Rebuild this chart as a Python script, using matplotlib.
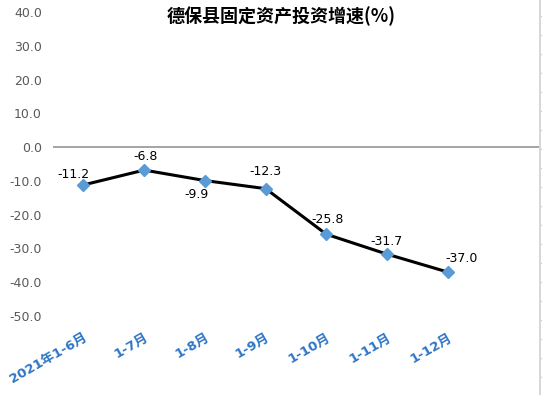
import matplotlib
matplotlib.use("Agg")
import matplotlib.pyplot as plt
from matplotlib.lines import Line2D

plt.rcParams['font.family'] = ['DejaVu Sans', 'Noto Sans CJK SC']

periods = ["2021年1-6月", "1-7月", "1-8月", "1-9月", "1-10月", "1-11月", "1-12月"]
growth = [-11.2, -6.8, -9.9, -12.3, -25.8, -31.7, -37.0]
# label offsets in pixels (dx, dy) relative to each point
label_offsets = [(-10, 10), (1, 14), (-8, -14), (0, 17), (1, 15), (-1, 13), (14, 14)]
yticks = [40, 30, 20, 10, 0, -10, -20, -30, -40, -50]

fig = plt.figure(figsize=(5.42, 3.95), dpi=100)
ax = fig.add_axes([53 / 542, 1 - 316 / 395, 486 / 542, 304 / 395])

x = list(range(len(periods)))
ax.plot(x, growth, color='black', lw=2.2, marker='D', markersize=6.5,
        markerfacecolor='#5B9BD5', markeredgecolor='#5B9BD5', zorder=3)

for xi, v, (dx, dy) in zip(x, growth, label_offsets):
    ax.annotate(f"{v:.1f}", (xi, v), xytext=(dx, dy), textcoords='offset pixels',
                ha='center', va='center', fontsize=9, color='black')

ax.set_xlim(-0.5, 7.5)
ax.set_ylim(-50, 40)
ax.set_yticks(yticks)
ax.set_yticklabels([f"{t:.1f}" for t in yticks], color='#595959', fontsize=9)
ax.tick_params(axis='y', length=0, pad=8)

ax.set_xticks(x)
ax.set_xticklabels(periods, rotation=30, ha='right', va='top', rotation_mode='anchor',
                   color='#2E75C6', fontweight='bold', fontsize=9.5)
ax.tick_params(axis='x', length=0, pad=11)

for s in ax.spines.values():
    s.set_visible(False)
ax.axhline(0, color='#8C8C8C', lw=1.1, zorder=1)

fig.text(281 / 542, 1 - 16 / 395, "德保县固定资产投资增速(%)", ha='center', va='center',
         fontsize=13, fontweight='bold', family=['Noto Sans CJK SC', 'DejaVu Sans'])

# light frame line at the right edge
fig.add_artist(Line2D([540 / 542, 540 / 542], [0, 1], color='#D0D0D0', lw=1.2))
for k in range(21):
    yy = 1 - (16 + 19 * k) / 395
    fig.add_artist(Line2D([540.5 / 542, 542 / 542], [yy, yy], color='#C8C8C8', lw=0.8))

fig.savefig("out.png", dpi=100)
